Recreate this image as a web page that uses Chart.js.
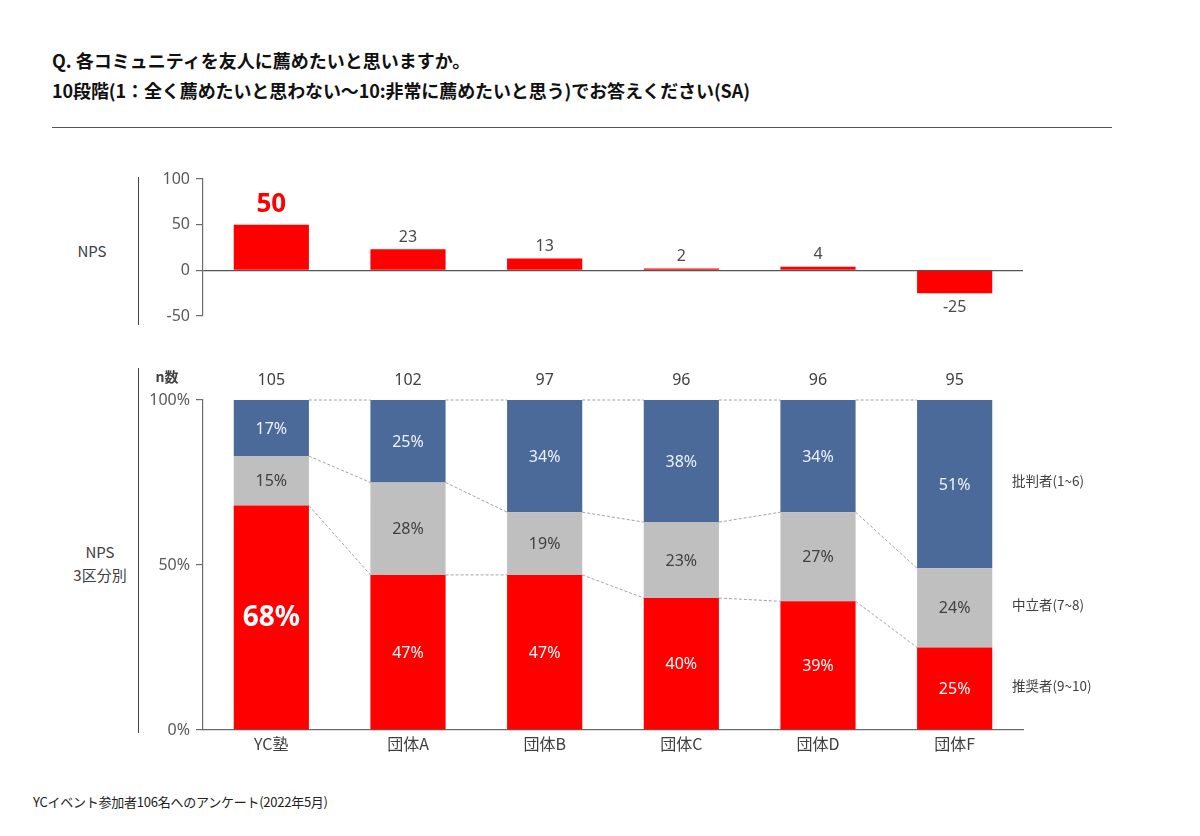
<!DOCTYPE html>
<html lang="ja">
<head>
<meta charset="utf-8">
<script src="https://cdn.jsdelivr.net/npm/chart.js@4.4.1/dist/chart.umd.min.js"></script>
<style>
  html,body{margin:0;padding:0;background:#fff;}
  body{width:1200px;height:836px;position:relative;overflow:hidden;font-family:"Noto Sans CJK JP","Noto Sans",sans-serif;}
  .abs{position:absolute;white-space:nowrap;}
  .title{left:52px;font-size:18px;font-weight:bold;color:#111;line-height:1;}
  #t1{top:51px;}
  #t2{top:81px;letter-spacing:-0.1px;}
  #hr{left:52px;top:127px;width:1060px;height:0;border-top:1.5px solid #555;}
  .side{font-size:15px;color:#404040;text-align:center;line-height:23px;}
  .vline{width:0;border-left:1.3px solid #444;}
  #foot{left:33px;top:792px;font-size:13px;color:#222;letter-spacing:-0.25px;}
  canvas{position:absolute;}
</style>
</head>
<body>
<div class="abs title" id="t1">Q. 各コミュニティを友人に薦めたいと思いますか。</div>
<div class="abs title" id="t2">10段階(1：全く薦めたいと思わない〜10:非常に薦めたいと思う)でお答えください(SA)</div>
<div class="abs" id="hr"></div>

<div class="abs side" style="left:72px;top:239px;width:40px;">NPS</div>
<div class="abs vline" style="left:138px;top:177px;height:148px;"></div>

<div class="abs side" style="left:70px;top:540px;width:60px;">NPS<br>3区分別</div>
<div class="abs vline" style="left:138px;top:368px;height:365px;"></div>

<div class="abs" id="foot">YCイベント参加者106名へのアンケート(2022年5月)</div>

<canvas id="nps" width="940" height="180" style="left:100px;top:160px;"></canvas>
<canvas id="seg" width="1100" height="420" style="left:100px;top:360px;"></canvas>

<script>
// ---- data ----
const categories = ["YC塾", "団体A", "団体B", "団体C", "団体D", "団体F"];
const npsValues = [50, 23, 13, 2, 4, -25];
const nCounts = [105, 102, 97, 96, 96, 95];
const promoters = [68, 47, 47, 40, 39, 25];
const passives = [15, 28, 19, 23, 27, 24];
const detractors = [17, 25, 34, 38, 34, 51];
const segmentNames = ["推奨者(9~10)", "中立者(7~8)", "批判者(1~6)"];
const npsTicks = [-50, 0, 50, 100];
const pctTicks = [0, 50, 100];

const RED = "#FF0000", BLUE = "#4B6A9A", GRAY = "#BFBFBF";
const NUMFONT = '"Noto Sans", "Noto Sans CJK JP", sans-serif';
const JPFONT = '"Noto Sans CJK JP", "Noto Sans", sans-serif';
const AXIS = "#6b6b6b";

Chart.defaults.animation = false;
Chart.defaults.font.family = NUMFONT;

// ---- NPS bar chart ----
const npsLabels = {
  id: "npsLabels",
  afterDatasetsDraw(chart) {
    const ctx = chart.ctx;
    const meta = chart.getDatasetMeta(0);
    ctx.save();
    ctx.textAlign = "center";
    meta.data.forEach((el, i) => {
      const v = npsValues[i];
      if (i === 0) {
        ctx.fillStyle = RED;
        ctx.font = "bold 26px " + NUMFONT;
        ctx.textBaseline = "bottom";
        ctx.fillText(String(v), el.x, el.y - 7);
      } else {
        ctx.fillStyle = "#4a4a4a";
        ctx.font = "16px " + NUMFONT;
        if (v >= 0) {
          ctx.textBaseline = "bottom";
          ctx.fillText(String(v), el.x, el.y - 4);
        } else {
          ctx.textBaseline = "top";
          ctx.fillText(String(v), el.x, el.y + 6);
        }
      }
    });
    ctx.restore();
  }
};

new Chart(document.getElementById("nps"), {
  type: "bar",
  data: {
    labels: categories,
    datasets: [{ data: npsValues, backgroundColor: RED, borderWidth: 0,
                 barPercentage: 0.55, categoryPercentage: 1 }]
  },
  options: {
    responsive: false,
    devicePixelRatio: 1,
    layout: { padding: { left: 0, right: 17, top: 19, bottom: 24 } },
    plugins: { legend: { display: false }, tooltip: { enabled: false } },
    scales: {
      x: { display: false },
      y: {
        min: -50, max: 100,
        afterFit: s => { s.width = 103; },
        afterBuildTicks: s => { s.ticks = npsTicks.map(v => ({ value: v })); },
        ticks: { color: "#5a5a5a", font: { size: 16, family: NUMFONT }, padding: 6 },
        grid: {
          drawOnChartArea: true, drawTicks: true, tickLength: 7,
          color: c => (c.tick && c.tick.value === 0) ? "#555" : "rgba(0,0,0,0)",
          tickColor: AXIS, lineWidth: 1.2
        },
        border: { display: true, color: AXIS, width: 1.2 }
      }
    }
  },
  plugins: [npsLabels]
});

// ---- 100% stacked chart ----
const segPlugin = {
  id: "segPlugin",
  beforeDatasetsDraw(chart) {
    // dashed connectors
    const ctx = chart.ctx;
    const y = chart.scales.y;
    const m0 = chart.getDatasetMeta(0).data;
    const m1 = chart.getDatasetMeta(1).data;
    ctx.save();
    ctx.strokeStyle = "#8a8a8a";
    ctx.lineWidth = 0.8;
    ctx.setLineDash([3, 2]);
    for (let i = 0; i < categories.length - 1; i++) {
      const a = m0[i], b = m0[i + 1];
      const xa = a.x + a.width / 2, xb = b.x - b.width / 2;
      const levels = [
        [a.y, b.y],
        [m1[i].y, m1[i + 1].y],
        [y.getPixelForValue(100), y.getPixelForValue(100)]
      ];
      levels.forEach(([ya, yb]) => {
        ctx.beginPath(); ctx.moveTo(xa, ya); ctx.lineTo(xb, yb); ctx.stroke();
      });
    }
    ctx.restore();
  },
  afterDatasetsDraw(chart) {
    const ctx = chart.ctx;
    const area = chart.chartArea;
    ctx.save();
    ctx.textAlign = "center";
    ctx.textBaseline = "middle";
    const sets = [promoters, passives, detractors];
    sets.forEach((vals, d) => {
      const meta = chart.getDatasetMeta(d).data;
      meta.forEach((el, i) => {
        const top = Math.max(el.y, area.top), bot = el.base;
        const cy = (top + bot) / 2;
        if (d === 0 && i === 0) {
          ctx.font = "bold 28px " + NUMFONT;
          ctx.fillStyle = "#fff";
        } else {
          ctx.font = "16px " + NUMFONT;
          ctx.fillStyle = d === 1 ? "#404040" : (d === 2 ? "#eef3fb" : "#fff");
        }
        ctx.fillText(vals[i] + "%", el.x, cy + 1);
      });
    });
    // n counts
    ctx.font = "16px " + NUMFONT;
    ctx.fillStyle = "#404040";
    const m0 = chart.getDatasetMeta(0).data;
    m0.forEach((el, i) => ctx.fillText(String(nCounts[i]), el.x, 20));
    ctx.font = "bold 14px " + JPFONT;
    ctx.fillStyle = "#404040";
    ctx.fillText("n数", 67, 17);
    // segment legend at right of last bar
    ctx.textAlign = "left";
    ctx.font = "13.5px " + JPFONT;
    const last = categories.length - 1;
    [0, 1, 2].forEach(d => {
      const el = chart.getDatasetMeta(d).data[last];
      const top = Math.max(el.y, area.top);
      ctx.fillText(segmentNames[d], area.right - 11, (top + el.base) / 2 - 3);
    });
    ctx.restore();
  }
};

new Chart(document.getElementById("seg"), {
  type: "bar",
  data: {
    labels: categories,
    datasets: [
      { label: segmentNames[0], data: promoters, backgroundColor: RED },
      { label: segmentNames[1], data: passives, backgroundColor: GRAY },
      { label: segmentNames[2], data: detractors, backgroundColor: BLUE }
    ].map(d => Object.assign(d, { borderWidth: 0, barPercentage: 0.55, categoryPercentage: 1 }))
  },
  options: {
    responsive: false,
    devicePixelRatio: 1,
    layout: { padding: { left: 0, right: 177, top: 40, bottom: 0 } },
    plugins: { legend: { display: false }, tooltip: { enabled: false } },
    scales: {
      x: {
        stacked: true,
        afterFit: s => { s.height = 50; },
        ticks: { color: "#404040", font: { size: 16, family: JPFONT }, padding: 4 },
        grid: { display: false, drawTicks: false },
        border: { display: true, color: AXIS, width: 1.2 }
      },
      y: {
        stacked: true, min: 0, max: 100,
        afterFit: s => { s.width = 103; },
        afterBuildTicks: s => { s.ticks = pctTicks.map(v => ({ value: v })); },
        ticks: { color: "#5a5a5a", font: { size: 16, family: NUMFONT }, padding: 6,
                 callback: v => v + "%" },
        grid: { drawOnChartArea: false, drawTicks: true, tickLength: 7, tickColor: AXIS, lineWidth: 1.2 },
        border: { display: true, color: AXIS, width: 1.2 }
      }
    }
  },
  plugins: [segPlugin]
});
</script>
</body>
</html>
